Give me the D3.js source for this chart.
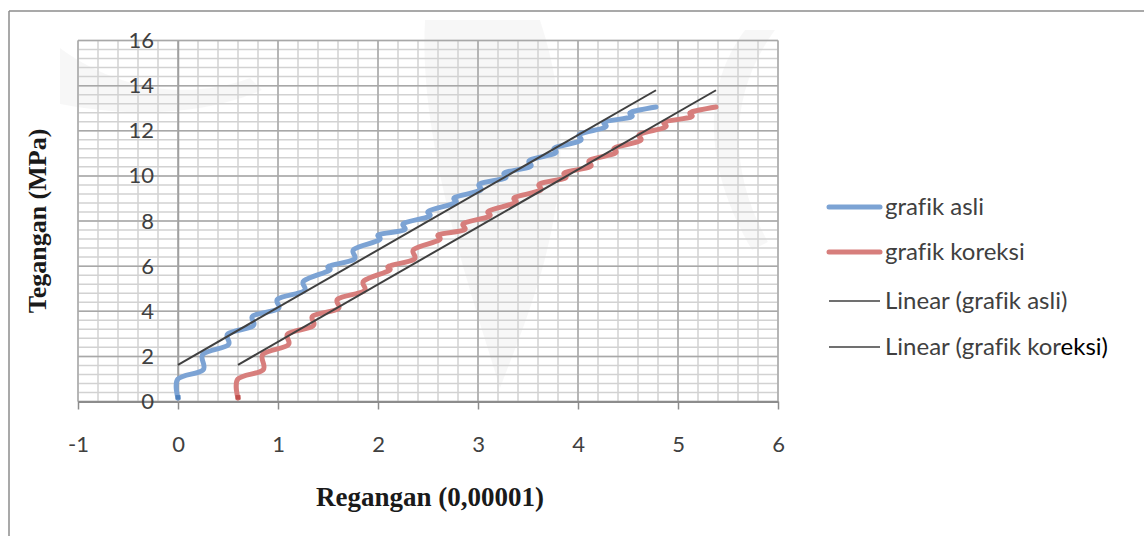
<!DOCTYPE html>
<html>
<head>
<meta charset="utf-8">
<script src="https://cdn.jsdelivr.net/npm/d3@7"></script>
<style>
  html, body { margin: 0; padding: 0; background: #fff; }
  svg { display: block; }
  text { font-variant-ligatures: none; font-feature-settings: "liga" 0; }
</style>
</head>
<body>
<svg id="chart" width="1144" height="536"></svg>
<script>
// Stress readings (MPa), shared by both strain series
const tegangan = [0.15, 1.0, 1.4, 2.1, 2.5, 3.0, 3.35, 3.8, 4.1, 4.55, 4.9, 5.35, 5.8, 6.0,
  6.3, 6.75, 7.15, 7.4, 7.6, 7.9, 8.2, 8.45, 8.8, 9.05, 9.35, 9.65, 9.9, 10.15,
  10.4, 10.7, 11.0, 11.25, 11.55, 11.85, 12.15, 12.4, 12.6, 12.82, 13.05];

// Strain readings (x 0,00001), original
const reganganAsli = [0, 0, 0.25, 0.25, 0.5, 0.5, 0.75, 0.75, 1.0, 1.0, 1.26, 1.26, 1.51, 1.51,
  1.76, 1.76, 2.01, 2.01, 2.26, 2.26, 2.51, 2.51, 2.77, 2.77, 3.02, 3.02, 3.27, 3.27,
  3.52, 3.52, 3.77, 3.77, 4.02, 4.02, 4.27, 4.27, 4.53, 4.53, 4.78];

// Strain readings (x 0,00001), corrected
const reganganKoreksi = [0.6, 0.6, 0.85, 0.85, 1.1, 1.1, 1.35, 1.35, 1.6, 1.6, 1.86, 1.86, 2.11, 2.11,
  2.36, 2.36, 2.61, 2.61, 2.86, 2.86, 3.11, 3.11, 3.37, 3.37, 3.62, 3.62, 3.87, 3.87,
  4.12, 4.12, 4.37, 4.37, 4.62, 4.62, 4.87, 4.87, 5.13, 5.13, 5.38];

const xTicks = [-1, 0, 1, 2, 3, 4, 5, 6];
const yTicks = [0, 2, 4, 6, 8, 10, 12, 14, 16];
const seriesNames = ["grafik asli", "grafik koreksi", "Linear (grafik asli)", "Linear (grafik koreksi)"];

const colors = {
  asli: "#7ca3d4", asliDark: "#4f81bd",
  koreksi: "#d77e7c", koreksiDark: "#c0504d",
  trend: "#404040"
};

const svg = d3.select("#chart");
const W = 1144, H = 536;
const sans = "Lato, 'Open Sans', sans-serif";
const serif = "'Liberation Serif', 'Times New Roman', serif";

const x = d3.scaleLinear().domain([-1, 6]).range([78, 778]);
const y = d3.scaleLinear().domain([0, 16]).range([401.5, 40.5]);

// faint background emblem
const wm = svg.append("g").attr("fill", "#000").attr("fill-opacity", 0.03);
wm.append("path").attr("d", "M425,20 C418,140 470,290 500,388 C538,290 590,170 540,20 Z");
wm.append("path").attr("d", "M60,48 C120,92 190,100 250,78 L262,90 C200,118 120,116 60,104 Z");
wm.append("path").attr("d", "M745,30 C700,90 705,170 752,250 L768,242 C728,170 728,95 775,30 Z");

// chart frame
svg.append("line").attr("x1", 9).attr("x2", W).attr("y1", 11).attr("y2", 11)
  .attr("stroke", "#8c8c8c").attr("stroke-width", 1.5);
svg.append("line").attr("x1", 9).attr("x2", 9).attr("y1", 11).attr("y2", H)
  .attr("stroke", "#8c8c8c").attr("stroke-width", 1.5);

// grid
const grid = svg.append("g");
const [x0, x1] = x.domain();
const [y0, y1] = y.domain();
const minorX = d3.range(0, 36).map(i => x0 + i * 0.2);
const minorY = d3.range(0, 41).map(i => y0 + i * 0.4);

grid.selectAll(".mx").data(minorX).join("line")
  .attr("x1", d => x(d)).attr("x2", d => x(d))
  .attr("y1", y(y0)).attr("y2", y(y1))
  .attr("stroke", "#d2d2d2").attr("stroke-width", 1.5);
grid.selectAll(".my").data(minorY).join("line")
  .attr("x1", x(x0)).attr("x2", x(x1))
  .attr("y1", d => y(d)).attr("y2", d => y(d))
  .attr("stroke", "#d2d2d2").attr("stroke-width", 1.5);
grid.selectAll(".MX").data(xTicks).join("line")
  .attr("x1", d => x(d)).attr("x2", d => x(d))
  .attr("y1", y(y0)).attr("y2", y(y1))
  .attr("stroke", "#a8a8a8").attr("stroke-width", 1.5);
grid.selectAll(".MY").data(yTicks).join("line")
  .attr("x1", x(x0)).attr("x2", x(x1))
  .attr("y1", d => y(d)).attr("y2", d => y(d))
  .attr("stroke", "#a8a8a8").attr("stroke-width", 1.5);

// x axis
const xAxis = svg.append("g")
  .attr("transform", `translate(0,${y(0)})`)
  .call(d3.axisBottom(x).tickValues(xTicks).tickSize(8).tickPadding(27).tickSizeOuter(0)
    .tickFormat(d => String(d)));
xAxis.select(".domain").attr("stroke", "#8c8c8c").attr("stroke-width", 2);
xAxis.selectAll(".tick line").attr("stroke", "#8c8c8c").attr("stroke-width", 1.5);
xAxis.selectAll(".tick text")
  .attr("fill", "#404040").attr("font-family", sans).attr("font-size", 22);

// y axis at x = 0
const yAxis = svg.append("g")
  .attr("transform", `translate(${x(0)},0)`)
  .call(d3.axisLeft(y).tickValues(yTicks).tickSize(0).tickPadding(24).tickSizeOuter(0)
    .tickFormat(d => String(d)));
yAxis.select(".domain").attr("stroke", "#a0a0a0").attr("stroke-width", 1.5);
yAxis.selectAll(".tick text")
  .attr("fill", "#404040").attr("font-family", sans).attr("font-size", 22);

// axis titles
svg.append("text")
  .attr("x", (x(x0) + x(x1)) / 2 + 2).attr("y", 506)
  .attr("text-anchor", "middle")
  .attr("font-family", serif)
  .attr("font-weight", "bold").attr("font-size", 27).attr("fill", "#1a1a1a")
  .text("Regangan (0,00001)");
svg.append("text")
  .attr("transform", `translate(46,${(y(y0) + y(y1)) / 2}) rotate(-90)`)
  .attr("text-anchor", "middle")
  .attr("font-family", serif)
  .attr("font-weight", "bold").attr("font-size", 26).attr("fill", "#1a1a1a")
  .text("Tegangan (MPa)");

// least-squares line
function linReg(xs, ys) {
  const n = xs.length;
  const mx = d3.mean(xs), my = d3.mean(ys);
  let sxx = 0, sxy = 0;
  for (let i = 0; i < n; i++) {
    sxx += (xs[i] - mx) * (xs[i] - mx);
    sxy += (xs[i] - mx) * (ys[i] - my);
  }
  const b = sxy / sxx;
  return { slope: b, intercept: my - b * mx };
}

const line = d3.line()
  .x(d => x(d[0])).y(d => y(d[1]))
  .curve(d3.curveCatmullRom.alpha(0));

const series = [
  { xs: reganganAsli, color: colors.asli, dark: colors.asliDark },
  { xs: reganganKoreksi, color: colors.koreksi, dark: colors.koreksiDark }
];

const plot = svg.append("g");
series.forEach(s => {
  const pts = s.xs.map((v, i) => [v, tegangan[i]]);
  plot.append("path")
    .attr("d", line(pts))
    .attr("fill", "none").attr("stroke", s.color)
    .attr("stroke-width", 5).attr("stroke-linecap", "round").attr("stroke-linejoin", "round");
  // start marker
  plot.append("rect")
    .attr("x", x(pts[0][0]) - 2.5).attr("y", y(pts[0][1]) - 3)
    .attr("width", 5).attr("height", 4.5)
    .attr("fill", s.dark);
});

// linear trend lines
series.forEach(s => {
  const r = linReg(s.xs, tegangan);
  const xa = d3.min(s.xs), xb = d3.max(s.xs);
  plot.append("line")
    .attr("x1", x(xa)).attr("y1", y(r.intercept + r.slope * xa))
    .attr("x2", x(xb)).attr("y2", y(r.intercept + r.slope * xb))
    .attr("stroke", colors.trend).attr("stroke-width", 2);
});

// legend
const legend = svg.append("g").attr("font-family", sans).attr("font-size", 24);
const legendRows = [
  { name: seriesNames[0], color: colors.asli, w: 5, y: 207 },
  { name: seriesNames[1], color: colors.koreksi, w: 5, y: 252 },
  { name: seriesNames[2], color: colors.trend, w: 1.5, y: 301 },
  { name: seriesNames[3], color: colors.trend, w: 1.5, y: 347 }
];
legendRows.forEach((r, i) => {
  legend.append("line")
    .attr("x1", 829).attr("x2", 880).attr("y1", r.y).attr("y2", r.y)
    .attr("stroke", r.color).attr("stroke-width", r.w)
    .attr("stroke-linecap", i < 2 ? "round" : "butt");
  const t = legend.append("text")
    .attr("x", 885).attr("y", r.y).attr("dy", "0.35em").attr("fill", "#404040");
  if (i === 3) {
    t.append("tspan").text(r.name.slice(0, 18));
    t.append("tspan").attr("fill", "#000").text(r.name.slice(18));
  } else {
    t.text(r.name);
  }
});
</script>
</body>
</html>
